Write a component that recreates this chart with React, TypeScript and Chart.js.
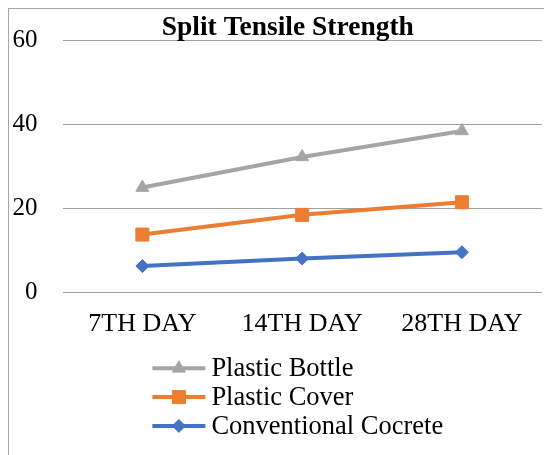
import React, { useEffect, useRef } from 'react';
import { Chart, registerables } from 'chart.js';

Chart.register(...registerables);

const categories = ['7TH DAY', '14TH DAY', '28TH DAY'];
const plasticBottle = [25.0, 32.3, 38.5];
const plasticCover = [13.8, 18.5, 21.5];
const conventionalConcrete = [6.3, 8.1, 9.6];
const seriesNames = ['Plastic Bottle', 'Plastic Cover', 'Conventional Cocrete'];
const seriesColors = ['#A5A5A5', '#ED7D31', '#4472C4'];
const chartTitle = 'Split Tensile Strength';
const yMin = 0;
const yMax = 60;
const yStep = 20;

const FONT = '"Liberation Serif", "Times New Roman", serif';

function drawMarker(ctx: CanvasRenderingContext2D, style: string, x: number, y: number, r: number, color: string) {
  ctx.save();
  ctx.fillStyle = color;
  ctx.strokeStyle = color;
  ctx.lineWidth = 1;
  ctx.beginPath();
  if (style === 'triangle') {
    let rad = 0;
    ctx.moveTo(x + Math.sin(rad) * r, y - Math.cos(rad) * r);
    rad += (2 * Math.PI) / 3;
    ctx.lineTo(x + Math.sin(rad) * r, y - Math.cos(rad) * r);
    rad += (2 * Math.PI) / 3;
    ctx.lineTo(x + Math.sin(rad) * r, y - Math.cos(rad) * r);
    ctx.closePath();
  } else if (style === 'rect') {
    const s = Math.SQRT1_2 * r;
    ctx.rect(x - s, y - s, 2 * s, 2 * s);
  } else {
    ctx.moveTo(x, y - r);
    ctx.lineTo(x + r, y);
    ctx.lineTo(x, y + r);
    ctx.lineTo(x - r, y);
    ctx.closePath();
  }
  ctx.fill();
  ctx.stroke();
  ctx.restore();
}

const titleAndLegend = {
  id: 'titleAndLegend',
  afterDraw(chart: any) {
    const ctx: CanvasRenderingContext2D = chart.ctx;
    const area = chart.chartArea;
    // title
    ctx.save();
    ctx.fillStyle = '#000';
    ctx.font = `bold 27.5px ${FONT}`;
    ctx.textAlign = 'center';
    ctx.textBaseline = 'middle';
    ctx.fillText(chartTitle, area.right - 254, 19);
    ctx.restore();
    // legend
    const xScale = chart.scales.x;
    const x0 = xScale.getPixelForValue(0) + 10;
    const top = xScale.bottom + 30.8;
    chart.data.datasets.forEach((ds: any, i: number) => {
      const y = top + i * 28.8;
      ctx.save();
      ctx.strokeStyle = ds.borderColor;
      ctx.lineWidth = 4;
      ctx.beginPath();
      ctx.moveTo(x0, y);
      ctx.lineTo(x0 + 53, y);
      ctx.stroke();
      drawMarker(ctx, ds.pointStyle, x0 + 26.5, y, ds.pointRadius, ds.backgroundColor);
      ctx.fillStyle = '#000';
      ctx.font = `26.5px ${FONT}`;
      ctx.textBaseline = 'middle';
      ctx.textAlign = 'left';
      ctx.fillText(ds.label, x0 + 59, y + 1);
      ctx.restore();
    });
  },
};

export default function App() {
  const canvasRef = useRef<HTMLCanvasElement | null>(null);

  useEffect(() => {
    if (!canvasRef.current) return;
    const values = [plasticBottle, plasticCover, conventionalConcrete];
    const styles = ['triangle', 'rect', 'rectRot'];
    const radii = [7.5, 9.2, 6.5];
    const chart = new Chart(canvasRef.current, {
      type: 'line',
      data: {
        labels: categories,
        datasets: values.map((v, i) => ({
          label: seriesNames[i],
          data: v,
          borderColor: seriesColors[i],
          backgroundColor: seriesColors[i],
          borderWidth: 4,
          pointStyle: styles[i],
          pointRadius: radii[i],
          pointBorderWidth: 1,
          pointBackgroundColor: seriesColors[i],
          pointBorderColor: seriesColors[i],
          tension: 0,
        })),
      },
      options: {
        animation: false,
        responsive: true,
        maintainAspectRatio: false,
        layout: { padding: { left: 3, right: 6, top: 31.7, bottom: 117.5 } },
        plugins: {
          legend: { display: false },
          tooltip: { enabled: false },
          title: { display: false },
        },
        scales: {
          x: {
            offset: true,
            grid: { display: false, drawTicks: false, tickLength: 0 },
            border: { display: false },
            ticks: { color: '#000', font: { family: FONT, size: 26, lineHeight: 1.2 }, padding: 16, maxRotation: 0, autoSkip: false },
            afterFit: (scale: any) => {
              scale.height = 45;
              scale.paddingLeft = 0;
              scale.paddingRight = 0;
            },
          },
          y: {
            min: yMin,
            max: yMax,
            grid: { color: '#a0a0a0', lineWidth: 1, drawTicks: false },
            border: { display: false },
            ticks: { stepSize: yStep, color: '#000', font: { family: FONT, size: 25, lineHeight: 1.2 }, padding: 25 },
            afterFit: (scale: any) => {
              scale.width = 50.5;
              scale.paddingTop = 0;
              scale.paddingBottom = 0;
            },
          },
        },
      } as any,
      plugins: [titleAndLegend],
    });
    return () => chart.destroy();
  }, []);

  return (
    <div
      style={{
        position: 'relative',
        width: 543,
        height: 446,
        borderLeft: '1px solid #a6a6a6',
        borderTop: '1px solid #a6a6a6',
        background: '#fff',
      }}
    >
      <canvas ref={canvasRef} />
    </div>
  );
}
